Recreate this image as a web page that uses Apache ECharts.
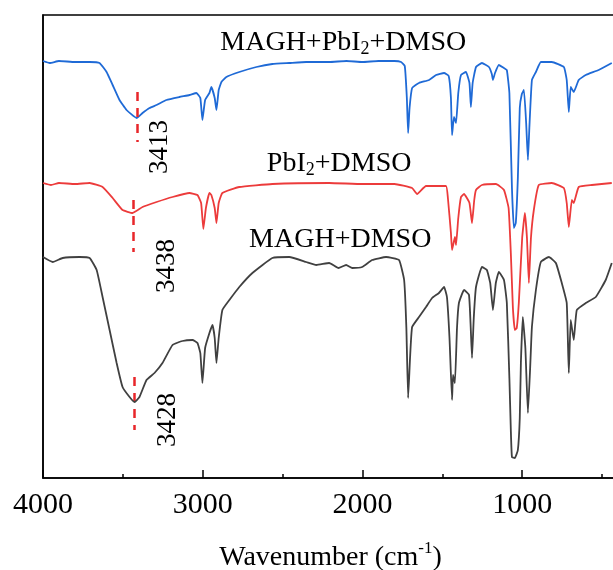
<!DOCTYPE html>
<html>
<head>
<meta charset="utf-8">
<script src="https://cdn.jsdelivr.net/npm/echarts@6/dist/echarts.min.js"></script>
<style>html,body{margin:0;padding:0;background:#fff;}#c{width:613px;height:570px;}</style>
</head>
<body>
<div id="c"></div>
<script>
// ---- data (wavenumber, relative transmittance with vertical offset) ----
const blueName = 'MAGH+PbI2+DMSO';
const redName = 'PbI2+DMSO';
const blackName = 'MAGH+DMSO';

const blueWn = [4000,3958,3900,3800,3708,3646,3602,3564,3521,3477,3414,3377,3333,3289,3227,3146,3083,3039,3015,3002,2985,2958,2946,2925,2914,2900,2883,2852,2771,2664,2564,2458,2352,2208,2100,2000,1900,1800,1758,1735,1722,1714,1705,1689,1646,1583,1539,1489,1460,1446,1439,1427,1414,1400,1383,1352,1330,1321,1310,1289,1252,1208,1190,1183,1170,1146,1114,1096,1080,1064,1052,1040,1027,1015,1002,989,975,964,955,939,914,883,814,739,721,708,696,677,646,602,521,439];
const blueVal = [417,415,417,416,416,415,406,393,378,368,360,365,370,373,378,381,383,385,380,358,378,385,391,380,368,388,396,401,406,411,414,415,416,416,417,416,417,417,416,412,380,345,370,390,395,398,403,405,402,380,343,361,355,385,403,406,395,371,395,411,415,411,404,398,405,413,410,408,385,290,250,255,300,370,384,388,355,318,350,398,406,416,416,411,398,366,391,386,398,403,408,415];

const redWn = [4000,3950,3900,3800,3708,3627,3564,3502,3439,3377,3289,3189,3083,3033,3010,2996,2980,2958,2946,2925,2914,2900,2877,2771,2564,2208,2000,1800,1689,1658,1602,1477,1465,1446,1439,1421,1414,1400,1383,1364,1330,1314,1300,1289,1252,1164,1114,1085,1071,1058,1046,1034,1021,1000,983,970,958,945,927,896,814,739,721,708,689,677,646,564,439];
const redVal = [295,293,295,294,295,291,280,268,265,271,276,281,285,283,275,249,270,285,283,270,255,275,285,291,294,295,294,294,290,284,292,292,280,245,228,241,233,260,281,284,275,255,278,288,293,294,288,270,225,170,148,150,175,240,265,240,195,240,268,293,295,290,275,251,278,275,291,293,295];

const blackWn = [4000,3939,3877,3771,3708,3664,3627,3583,3539,3502,3458,3427,3396,3352,3302,3252,3189,3127,3064,3033,3015,3002,2985,2958,2939,2925,2914,2900,2877,2833,2771,2689,2564,2458,2352,2289,2208,2150,2102,2064,2002,1939,1852,1771,1739,1725,1714,1702,1689,1646,1602,1564,1521,1489,1471,1455,1439,1433,1421,1408,1396,1364,1333,1322,1314,1303,1289,1252,1221,1200,1183,1165,1146,1114,1096,1080,1071,1064,1046,1027,1015,1008,996,980,964,950,939,914,883,833,789,752,721,708,696,677,658,602,539,477,439];
const blackVal = [221,216,220,221,220,208,181,148,115,91,81,76,81,98,105,115,133,137,138,135,125,95,130,145,153,140,115,140,168,178,191,205,220,221,216,213,215,210,213,210,211,218,221,218,198,150,80,120,151,161,171,180,185,191,181,140,78,103,95,150,175,188,183,150,120,160,191,211,208,195,168,195,206,198,175,100,48,21,20,28,60,115,161,130,65,110,151,188,216,221,215,195,175,105,158,138,168,175,181,198,215];

// annotation: band positions (cm-1) and dashed-marker spans
const peakLabels = ['3413','3438','3428'];
const peakWn = [3413,3438,3428];
const dashTop = [386,278,101];
const dashBottom = [336,226,48];
const numLabelWn = [3270,3227,3221];
const numLabelVal = [331,212,58];
const nameLabelWn = [2120,2146,2139];
const nameLabelVal = [435,314,238];

const xMajor = [1000,2000,3000,4000];
const xMinor = [500,1500,2500,3500];

const FONT = "'Liberation Serif','Times New Roman',serif";
const colors = ['#1f6ad6','#ec3b3b','#404040'];
const names = [blueName, redName, blackName];
const nameRich = [
  '{a|MAGH+PbI}{s|2}{a|+DMSO}',
  '{a|PbI}{s|2}{a|+DMSO}',
  '{a|MAGH+DMSO}'
];
const wnSets = [blueWn, redWn, blackWn];
const valSets = [blueVal, redVal, blackVal];

function pairs(xs, ys){ return xs.map((x,i)=>[x, ys[i]]); }

const series = [0,1,2].map(i => ({
  name: names[i],
  type: 'line',
  data: pairs(wnSets[i], valSets[i]),
  showSymbol: false,
  symbol: 'none',
  smooth: 0.12,
  lineStyle: {color: colors[i], width: 1.8},
  itemStyle: {color: colors[i]},
  z: 3 + i,
  markLine: {
    silent: true,
    symbol: ['none','none'],
    label: {show: false},
    lineStyle: {color: '#e8262a', type: [9,7], width: 2.5},
    data: [[{coord: [peakWn[i], dashTop[i]]}, {coord: [peakWn[i], dashBottom[i]]}]]
  },
  markPoint: {
    silent: true,
    symbol: 'circle',
    symbolSize: 0,
    data: [
      {coord: [nameLabelWn[i], nameLabelVal[i]],
       label: {show: true, position: 'inside', formatter: nameRich[i],
         rich: {
           a: {fontFamily: FONT, fontSize: 28, color: '#000', lineHeight: 30, verticalAlign: 'middle'},
           s: {fontFamily: FONT, fontSize: 18, color: '#000', lineHeight: 14, verticalAlign: 'bottom', padding: [16,0,0,0]}
         }}},
      {coord: [numLabelWn[i], numLabelVal[i]],
       label: {show: true, position: 'inside', formatter: peakLabels[i], rotate: 90,
         fontFamily: FONT, fontSize: 27, color: '#000'}}
    ]
  }
}));

const chart = echarts.init(document.getElementById('c'), null, {renderer: 'canvas'});
const common = {min: 400, max: 4000, inverse: true, type: 'value', gridIndex: 0};
chart.setOption({
  animation: false,
  backgroundColor: '#fff',
  grid: {left: 43, top: 15, width: 575, height: 463, show: true, borderColor: '#000', borderWidth: 1.5,
         containLabel: false, outerBoundsMode: 'none'},
  xAxis: [
    Object.assign({}, common, {
      position: 'bottom',
      axisLine: {show: true, onZero: false, lineStyle: {color: '#000', width: 1.5}},
      axisTick: {show: true, inside: true, length: 8, lineStyle: {color: '#000', width: 1.5}, customValues: xMajor},
      axisLabel: {show: true, customValues: xMajor, formatter: v => String(v), fontFamily: FONT, fontSize: 30, color: '#000', margin: 12},
      splitLine: {show: false},
      name: '{t|Wavenumber (cm}{p|-1}{t|)}',
      nameLocation: 'middle',
      nameGap: 62,
      nameTextStyle: {rich: {
        t: {fontFamily: FONT, fontSize: 28, color: '#000', verticalAlign: 'bottom', lineHeight: 32},
        p: {fontFamily: FONT, fontSize: 17, color: '#000', verticalAlign: 'top', lineHeight: 32, padding: [0,0,0,0]}
      }}
    }),
    Object.assign({}, common, {
      position: 'bottom',
      axisLine: {show: false},
      axisTick: {show: true, inside: true, length: 4, lineStyle: {color: '#000', width: 1.5}, customValues: xMinor},
      axisLabel: {show: false},
      splitLine: {show: false}
    })
  ],
  yAxis: {
    type: 'value', min: 0, max: 463,
    axisLine: {show: true, lineStyle: {color: '#000', width: 1.5}},
    axisTick: {show: false}, axisLabel: {show: false}, splitLine: {show: false}
  },
  series: series
});
</script>
</body>
</html>
